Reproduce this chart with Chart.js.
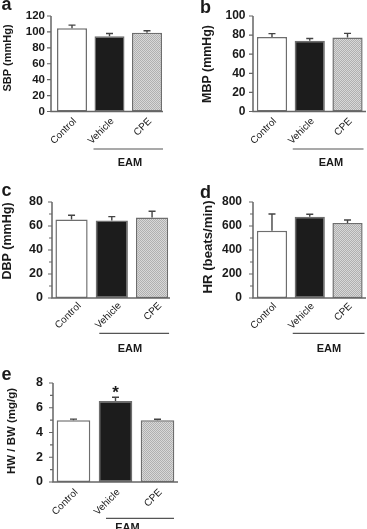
<!DOCTYPE html>
<html>
<head>
<meta charset="utf-8">
<script src="https://cdn.jsdelivr.net/npm/chart.js@4.4.1/dist/chart.umd.min.js"></script>
<style>
  html, body { margin: 0; padding: 0; background: #fff; }
  #page { position: relative; width: 367px; height: 529px; overflow: hidden; }
  #page canvas { position: absolute; }
</style>
</head>
<body>
<div id="page"></div>
<script>
// ---- data ----
const groups = ["Control", "Vehicle", "CPE"];
const groupLabel = "EAM";

const sbp = [104.5, 94.5, 99];
const sbpErr = [4, 3.5, 2.5];
const mbp = [78, 74, 77.5];
const mbpErr = [3.5, 2.5, 4.3];
const dbp = [65.5, 64.5, 67];
const dbpErr = [3.5, 3.3, 5.3];
const hr = [560, 678, 625];
const hrErr = [140, 20, 25];
const hwbw = [5.0, 6.55, 5.0];
const hwbwErr = [0.08, 0.3, 0.07];

const FONT = '"Liberation Sans", Arial, sans-serif';
const AXIS = '#666';
const INK = '#1a1a1a';

// light grey dotted fill for CPE
function dotFill() {
  const c = document.createElement('canvas');
  c.width = 2; c.height = 2;
  const g = c.getContext('2d');
  g.fillStyle = '#d8d8d8'; g.fillRect(0, 0, 2, 2);
  g.fillStyle = '#b0b0b0'; g.fillRect(0, 0, 1, 1); g.fillRect(1, 1, 1, 1);
  return g.createPattern(c, 'repeat');
}

// layout of each panel (page coordinates)
const panels = [
  { letter: 'a', title: 'SBP (mmHg)', titleSize: 11, titleX: 7.5, titleY: 58,
    values: sbp, errs: sbpErr, max: 120, step: 20, minor: false,
    box: [0, 0, 183, 170], area: [53.25, 16, 165.75, 111.5], axisX: 51, axisEnd: 163,
    labelEnd: 45, tickSize: 11.5, xPad: 4, xShift: 3, letterX: 1.5, letterY: 9.5,
    eam: { y: 149, l: 16, r: 16, tx: 130, ty: 166 } },
  { letter: 'b', title: 'MBP (mmHg)', titleSize: 12.4, titleX: 208, titleY: 64,
    values: mbp, errs: mbpErr, max: 100, step: 20, minor: false,
    box: [183, 0, 184, 170], area: [253.1, 16, 366.4, 111.5], axisX: 253, axisEnd: 366,
    labelEnd: 245.5, tickSize: 12, xPad: 4, xShift: 3, letterX: 200, letterY: 12.5,
    eam: { y: 149, l: 17, r: 16, tx: 331, ty: 166 } },
  { letter: 'c', title: 'DBP (mmHg)', titleSize: 12.5, titleX: 8, titleY: 241,
    values: dbp, errs: dbpErr, max: 80, step: 20, minor: true,
    box: [0, 170, 183, 186], area: [51.4, 202, 172.2, 298], axisX: 52, axisEnd: 170,
    labelEnd: 43, tickSize: 12.5, xPad: 2, xShift: 8, letterX: 1.5, letterY: 196,
    eam: { y: 333.3, l: 12.5, r: 17, tx: 130, ty: 352 } },
  { letter: 'd', title: 'HR (beats/min)', titleSize: 13.2, titleX: 208, titleY: 247,
    values: hr, errs: hrErr, max: 800, step: 200, minor: true,
    box: [183, 170, 184, 186], area: [253.1, 202, 366.4, 298], axisX: 253, axisEnd: 366,
    labelEnd: 242, tickSize: 12, xPad: 2.5, xShift: 3, letterX: 200, letterY: 198,
    eam: { y: 333.3, l: 17, r: 17, tx: 329, ty: 352 } },
  { letter: 'e', title: 'HW / BW (mg/g)', titleSize: 11.5, titleX: 11.5, titleY: 431,
    values: hwbw, errs: hwbwErr, max: 8, step: 2, minor: true, star: 1,
    box: [0, 356, 183, 173], area: [52.5, 383, 178.5, 482], axisX: 53, axisEnd: 178,
    labelEnd: 43, tickSize: 12.5, xPad: 4.5, xShift: 3, letterX: 1.5, letterY: 379.5,
    eam: { y: 518.3, l: 9.5, r: 16.5, tx: 127.5, ty: 531 } }
];

// axes, error bars and annotations
const panelPlugin = {
  id: 'panel',
  afterDatasetsDraw(chart, args, p) {
    const { ctx, scales: { x, y } } = chart;
    const ox = p.box[0], oy = p.box[1];
    const ax = p.axisX - ox;
    const y0 = y.getPixelForValue(0);
    ctx.save();

    // error bars (upper only)
    const meta = chart.getDatasetMeta(0);
    ctx.strokeStyle = '#444';
    ctx.lineWidth = 1.4;
    meta.data.forEach((bar, i) => {
      const top = y.getPixelForValue(p.values[i] + p.errs[i]);
      ctx.beginPath();
      ctx.moveTo(bar.x, bar.y);
      ctx.lineTo(bar.x, top);
      ctx.moveTo(bar.x - 3.5, top);
      ctx.lineTo(bar.x + 3.5, top);
      ctx.stroke();
      if (p.star === i) {
        ctx.fillStyle = INK;
        ctx.font = 'bold 17px ' + FONT;
        ctx.textAlign = 'center';
        ctx.textBaseline = 'alphabetic';
        ctx.fillText('*', bar.x, top + 1);
      }
    });

    // axes
    ctx.strokeStyle = AXIS;
    ctx.lineWidth = 1.5;
    ctx.beginPath();
    ctx.moveTo(ax, y.getPixelForValue(p.max));
    ctx.lineTo(ax, y0);
    ctx.lineTo(p.axisEnd - ox, y0);
    ctx.stroke();
    ctx.lineWidth = 1.2;
    ctx.beginPath();
    y.ticks.forEach((t, i) => {
      const py = y.getPixelForValue(t.value);
      ctx.moveTo(ax - 4, py); ctx.lineTo(ax, py);
      if (p.minor && i < y.ticks.length - 1) {
        const my = y.getPixelForValue(t.value + p.step / 2);
        ctx.moveTo(ax - 3, my); ctx.lineTo(ax, my);
      }
    });
    ctx.stroke();

    // EAM bracket
    const e = p.eam;
    ctx.strokeStyle = '#555';
    ctx.lineWidth = 1.2;
    ctx.beginPath();
    ctx.moveTo(x.getPixelForValue(1) - e.l, e.y - oy);
    ctx.lineTo(x.getPixelForValue(2) + e.r, e.y - oy);
    ctx.stroke();
    ctx.fillStyle = INK;
    ctx.font = 'bold 11px ' + FONT;
    ctx.textAlign = 'center';
    ctx.textBaseline = 'alphabetic';
    ctx.fillText(groupLabel, e.tx - ox, e.ty - oy);

    // panel letter
    ctx.font = 'bold 18px ' + FONT;
    ctx.textAlign = 'left';
    ctx.fillText(p.letter, p.letterX - ox, p.letterY - oy);

    // y title
    ctx.save();
    ctx.translate(p.titleX - ox, p.titleY - oy);
    ctx.rotate(-Math.PI / 2);
    ctx.font = 'bold ' + p.titleSize + 'px ' + FONT;
    ctx.textAlign = 'center';
    ctx.textBaseline = 'middle';
    ctx.fillText(p.title, 0, 0);
    ctx.restore();

    ctx.restore();
  }
};

const page = document.getElementById('page');
const cpeFill = dotFill();

panels.forEach(p => {
  const [bx, by, bw, bh] = p.box;
  const [al, at, ar, ab] = p.area;
  const cv = document.createElement('canvas');
  cv.width = bw; cv.height = bh;
  cv.style.left = bx + 'px';
  cv.style.top = by + 'px';
  page.appendChild(cv);

  new Chart(cv, {
    type: 'bar',
    data: {
      labels: groups,
      datasets: [{
        data: p.values,
        backgroundColor: ['#ffffff', '#1c1c1c', cpeFill],
        borderColor: '#6e6e6e',
        borderWidth: 1.5,
        borderSkipped: false,
        barPercentage: 0.8,
        categoryPercentage: 1
      }]
    },
    options: {
      responsive: false,
      animation: false,
      devicePixelRatio: 1,
      layout: { padding: { top: at - by, right: bx + bw - ar, left: 0, bottom: 0 } },
      plugins: { legend: { display: false }, tooltip: { enabled: false }, panel: p },
      scales: {
        x: {
          grid: { display: false, drawTicks: false },
          border: { display: false },
          ticks: {
            autoSkip: false, minRotation: 45, maxRotation: 45,
            padding: p.xPad, labelOffset: p.xShift,
            color: INK, font: { family: FONT, size: 10 }
          },
          afterFit(s) { s.height = by + bh - ab; }
        },
        y: {
          min: 0, max: p.max,
          grid: { display: false, drawTicks: false },
          border: { display: false },
          ticks: {
            autoSkip: false,
            stepSize: p.step, padding: al - p.labelEnd,
            color: INK, font: { family: FONT, size: p.tickSize, weight: 'bold' }
          },
          afterFit(s) { s.width = al - bx; }
        }
      }
    },
    plugins: [panelPlugin]
  });
});
</script>
</body>
</html>
